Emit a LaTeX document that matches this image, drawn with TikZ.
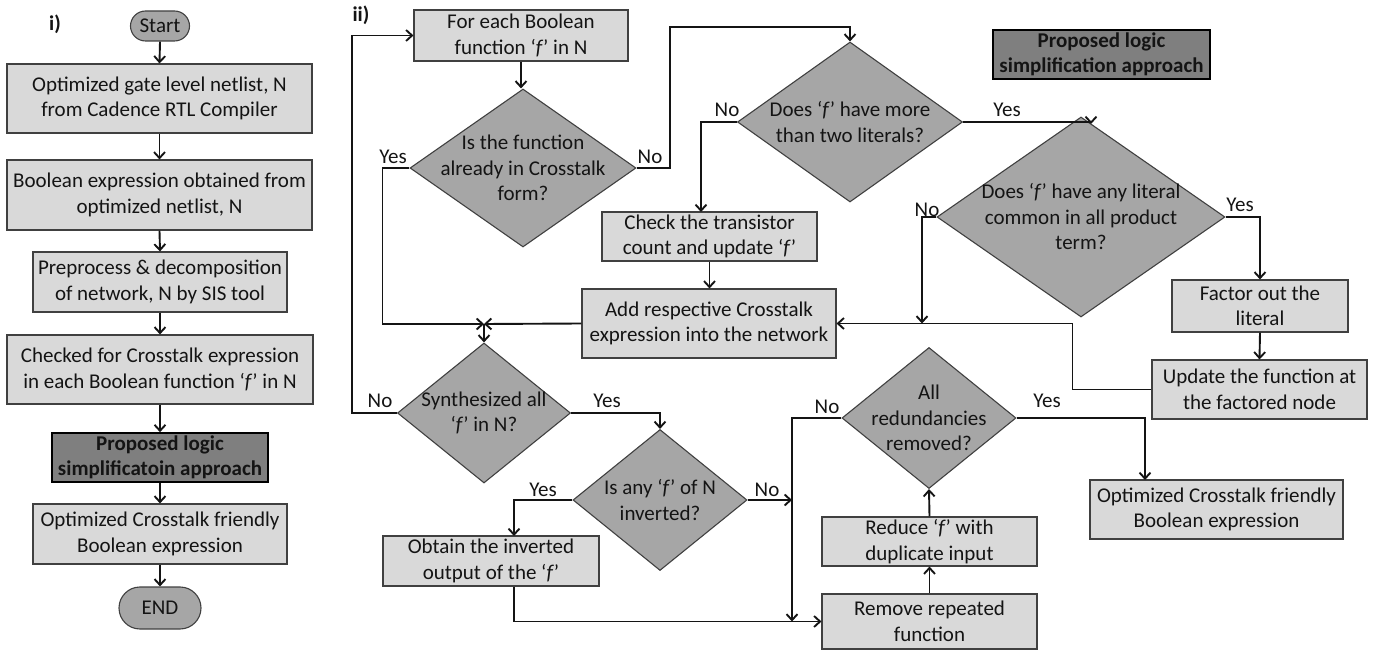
\documentclass[tikz,border=0pt]{standalone}
\usepackage{fontspec}
\setmainfont{Carlito}
\usetikzlibrary{shapes.geometric,arrows.meta}
\definecolor{lightbox}{HTML}{D9D9D9}
\definecolor{diamfill}{HTML}{A6A6A6}
\definecolor{darkbox}{HTML}{7F7F7F}
\definecolor{boxline}{HTML}{404040}
\definecolor{ink}{HTML}{141414}
\begin{document}
\begin{tikzpicture}[x=1pt,y=-1pt,
  every node/.style={font=\fontsize{21}{25.5}\selectfont, text=ink},
  box/.style={draw=boxline, fill=lightbox, line width=1.1pt, align=center, inner sep=0pt},
  dbox/.style={draw=black, fill=darkbox, line width=1.6pt, align=center, inner sep=0pt, font=\fontsize{21}{25.5}\selectfont\bfseries},
  term/.style={draw=boxline, fill=diamfill, line width=1.1pt, inner sep=0pt},
  diam/.style={diamond, draw=boxline, fill=diamfill, line width=1.1pt, inner sep=0pt},
  dtext/.style={align=center, inner sep=0pt},
  lbl/.style={inner sep=0pt},
  arr/.style={draw=ink, line width=1.9pt, -{Straight Barb[length=6pt,width=11pt]}}
]
\useasboundingbox (0,0) rectangle (1377,652);

% ---------- part i ----------
\node[lbl, font=\fontsize{21}{25.5}\selectfont\bfseries] (ti) at (55,24) {i)};
\node[term, minimum width=59pt, minimum height=30pt, rounded corners=15pt] (start) at (160,26) {Start};
\node[box, minimum width=305pt, minimum height=69pt] (b1) at (159.5,98.5) {Optimized gate level netlist, N\\from Cadence RTL Compiler};
\node[box, minimum width=305pt, minimum height=70pt] (b2) at (159.5,195) {Boolean expression obtained from\\optimized netlist, N};
\node[box, minimum width=254pt, minimum height=60pt] (b3) at (160,282) {Preprocess \& decomposition\\of network, N by SIS tool};
\node[box, minimum width=306pt, minimum height=69pt] (b4) at (160,369.5) {Checked for Crosstalk expression\\in each Boolean function ‘\textit{f}’ in N};
\node[dbox, minimum width=216pt, minimum height=49pt] (b5) at (160,457.5) {Proposed logic\\simplificatoin approach};
\node[box, minimum width=254pt, minimum height=60pt] (b6) at (160,534) {Optimized Crosstalk friendly\\Boolean expression};
\node[term, minimum width=82pt, minimum height=42pt, rounded corners=21pt] (end) at (160,608) {END};

\draw[arr] (start.south) -- (b1.north);
\draw[arr] (b1.south) -- (b2.north);
\draw[arr] (b2.south) -- (b3.north);
\draw[arr] (b3.south) -- (b4.north);
\draw[arr] (b4.south) -- (b5.north);
\draw[arr] (b5.south) -- (b6.north);
\draw[arr] (b6.south) -- (end.north);

% ---------- part ii ----------
\node[lbl, font=\fontsize{21}{25.5}\selectfont\bfseries] (tii) at (361,15) {ii)};
\node[dbox, minimum width=217pt, minimum height=49pt] (t) at (1101.5,54.5) {Proposed logic\\simplification approach};

\node[box, minimum width=214pt, minimum height=51pt] (a) at (521,35.5) {For each Boolean\\function ‘\textit{f}’ in N};
\node[diam, minimum width=226pt, minimum height=158pt] (d1) at (523,168) {};
\node[dtext] (d1t) at (d1) {Is the function\\already in Crosstalk\\form?};
\node[diam, minimum width=225pt, minimum height=160pt] (d2) at (850,122) {};
\node[dtext] (d2t) at (d2) {Does ‘\textit{f}’ have more\\than two literals?};
\node[box, minimum width=215pt, minimum height=49pt] (c) at (709.5,236.5) {Check the transistor\\count and update ‘\textit{f}’};
\node[box, minimum width=254pt, minimum height=69pt] (e) at (709,323.5) {Add respective Crosstalk\\expression into the network};
\node[diam, minimum width=288pt, minimum height=200pt] (d4) at (1081,217) {};
\node[dtext] (d4t) at (d4) {Does ‘\textit{f}’ have any literal\\common in all product\\term?};
\node[box, minimum width=176pt, minimum height=52pt] (f) at (1260,306) {Factor out the\\literal};
\node[box, minimum width=215pt, minimum height=59pt] (g) at (1259.5,389.5) {Update the function at\\the factored node};
\node[diam, minimum width=173pt, minimum height=140pt] (d3) at (484,413) {};
\node[dtext] (d3t) at (d3) {Synthesized all\\‘\textit{f}’ in N?};
\node[diam, minimum width=174pt, minimum height=141pt] (d5) at (660,500) {};
\node[dtext] (d5t) at (d5) {Is any ‘\textit{f}’ of N\\inverted?};
\node[box, minimum width=216pt, minimum height=50pt] (h) at (491,561) {Obtain the inverted\\output of the ‘\textit{f}’};
\node[diam, minimum width=174pt, minimum height=141pt] (d6) at (929,418) {};
\node[dtext] (d6t) at (d6) {All\\redundancies\\removed?};
\node[box, minimum width=215pt, minimum height=49pt] (q) at (929.5,541.5) {Reduce ‘\textit{f}’ with\\duplicate input};
\node[box, minimum width=215pt, minimum height=55pt] (r) at (929.5,621.5) {Remove repeated\\function};
\node[box, minimum width=253pt, minimum height=59pt] (o) at (1216.5,509.5) {Optimized Crosstalk friendly\\Boolean expression};

% labels
\node[lbl] (l1) at (393,157) {Yes};
\node[lbl] (l2) at (650,157) {No};
\node[lbl] (l3) at (727,110) {No};
\node[lbl] (l4) at (1007,110) {Yes};
\node[lbl] (l5) at (927,210) {No};
\node[lbl] (l6) at (1240,205) {Yes};
\node[lbl] (l7) at (380,401) {No};
\node[lbl] (l8) at (607,401) {Yes};
\node[lbl] (l9) at (543,490) {Yes};
\node[lbl] (l10) at (767,490) {No};
\node[lbl] (l11) at (827,407) {No};
\node[lbl] (l12) at (1047,401) {Yes};

% junction coordinates
\coordinate (j1) at (484,324);
\coordinate (k1) at (670,27);
\coordinate (k2) at (701,212);
\coordinate (k3) at (1091,124);
\coordinate (k4) at (922,323.5);
\coordinate (k5) at (514,536);
\coordinate (k6) at (792,500);
\coordinate (k7) at (792,621.5);
\coordinate (k9) at (1145,480);

% connectors
\draw[arr] (a.south) -- (a.south |- d1.north);
\draw[arr] (d1.west) -- ++(-27,0) |- (j1);
\draw[arr] (e.west) -- (j1);
\draw[arr] (j1) -- (d3.north);
\draw[arr] (d1.east) -| (k1) -| (d2.north);
\draw[arr] (d2.west) -| (k2);
\draw[arr] (d2.east) -| (k3);
\draw[arr] (c.south) -- (c.south |- e.north);
\draw[arr] (d4.west) -| (k4);
\draw[arr] (d4.east) -| (f.north);
\draw[arr] (f.south) -- (g.north);
\draw[arr] (g.west) -- ++(-79,0) |- (e.east);
\draw[arr] (d3.west) -- ++(-45,0) |- (a.west);
\draw[arr] (d3.east) -| (d5.north);
\draw[arr] (d5.west) -| (k5);
\draw[arr] (d5.east) -- (k6);
\draw[arr] (d6.west) -| (k7);
\draw[arr] (h.south -| k5) |- (r.west);
\draw[arr] (r.north) -- (q.south);
\draw[arr] (q.north) -- (d6.south);
\draw[arr] (d6.east) -| (k9);
\end{tikzpicture}
\end{document}
